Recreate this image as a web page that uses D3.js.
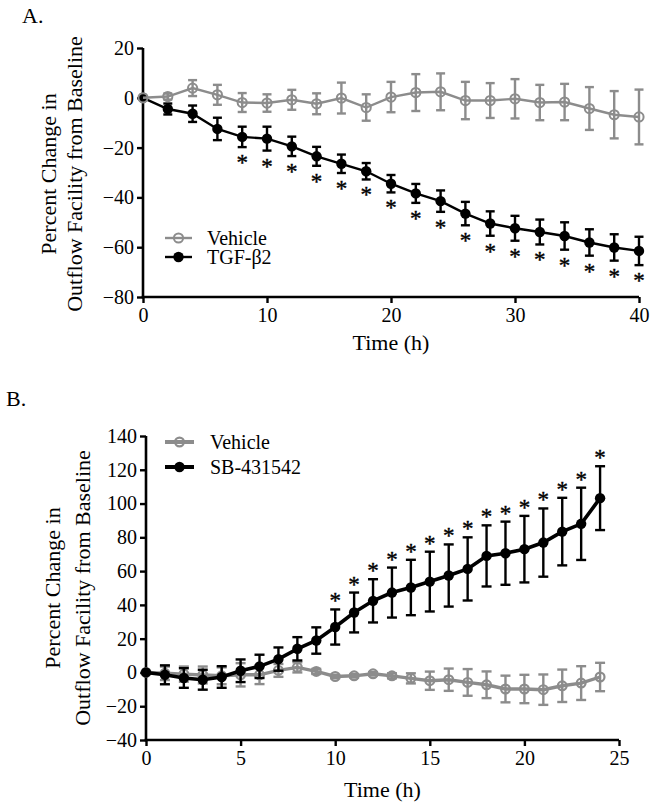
<!DOCTYPE html>
<html>
<head>
<meta charset="utf-8">
<script src="https://cdn.jsdelivr.net/npm/d3@7"></script>
<style>
  html, body { margin: 0; padding: 0; background: #fff; }
  svg { display: block; }
  text { font-family: "Liberation Serif", "Times New Roman", serif; fill: #000; }
  .stars text { stroke: #000; stroke-width: 0.4px; -webkit-font-smoothing: antialiased; }
</style>
</head>
<body>
<svg id="chart" width="654" height="808"></svg>
<script>
// ---------- Panel A data ----------
const hoursA = [0,2,4,6,8,10,12,14,16,18,20,22,24,26,28,30,32,34,36,38,40];
const vehicleA    = [0,0.5,3.9,1.2,-1.9,-2.1,-0.8,-2.4,-0.1,-3.9,0.3,2.1,2.4,-1.1,-1.1,-0.4,-1.9,-1.7,-4.3,-6.8,-7.7];
const vehicleAErr = [0,1.2,3.2,4.0,3.8,3.5,4.0,4.2,6.2,5.3,6.1,7.4,7.4,7.5,7.0,7.9,7.1,7.3,8.6,9.5,11.0];
const tgfA    = [0,-4.5,-6.4,-12.5,-15.7,-16.4,-19.5,-23.5,-26.5,-29.5,-34.5,-38.4,-41.5,-46.5,-50.5,-52.4,-53.9,-55.5,-58.1,-60.1,-61.5];
const tgfAErr = [0,2.2,3.3,4.5,4.1,4.8,3.9,3.8,3.7,3.3,3.5,3.8,4.3,4.7,4.9,5.0,5.0,5.5,5.3,5.3,5.7];
const sigHoursA = [8,10,12,14,16,18,20,22,24,26,28,30,32,34,36,38,40];
const xTicksA = [0,10,20,30,40];
const yTicksA = [-80,-60,-40,-20,0,20];
const seriesNamesA = ["Vehicle","TGF-\u03B22"];

// ---------- Panel B data ----------
const hoursB = [0,1,2,3,4,5,6,7,8,9,10,11,12,13,14,15,16,17,18,19,20,21,22,23,24];
const vehicleB    = [0,-0.5,-1,-1.5,-2,-1.4,-1.4,1.2,3.0,0.6,-2.4,-2.0,-0.8,-2.0,-3.5,-4.9,-4.3,-5.9,-7.3,-9.8,-9.8,-10.2,-7.9,-6.3,-2.7];
const vehicleBErr = [0,4,4.5,5,5,6.9,5.5,3.8,3,1.5,1,1,1,1.5,3,5.4,6.6,7.9,7.9,7.9,8.4,9,9.6,10,8.4];
const sbB    = [0,-1.4,-3.3,-4.3,-2.7,1.0,3.6,7.9,14.0,18.9,26.9,35.5,42.4,47.3,50.3,53.8,57.4,61.3,69.0,70.6,73.0,76.9,83.4,88.0,103.2];
const sbBErr = [0,5.6,5.8,5.9,6.4,6.7,6.9,6.9,6.9,7.8,10.4,11.8,12.8,14.8,16.4,17.7,18.4,18.7,18.1,18.7,19.7,20.2,20.0,21.4,18.9];
const sigHoursB = [10,11,12,13,14,15,16,17,18,19,20,21,22,23,24];
const xTicksB = [0,5,10,15,20,25];
const yTicksB = [-40,-20,0,20,40,60,80,100,120,140];
const seriesNamesB = ["Vehicle","SB-431542"];

const yTitle1 = "Percent Change in";
const yTitle2 = "Outflow Facility from Baseline";
const xTitle = "Time (h)";

const GRAY = "#8c8c8c";
const svg = d3.select("#chart");

function zip(hours, vals, errs) {
  return hours.map((h, i) => ({h, v: vals[i], e: errs[i]}));
}

function drawAxes(g, x, y, xTicks, yTicks) {
  const ya = g.append("g").attr("transform", `translate(${x.range()[0]},0)`)
    .call(d3.axisLeft(y).tickValues(yTicks).tickSize(6).tickSizeOuter(0).tickPadding(3).tickFormat(d3.format("d")));
  const xa = g.append("g").attr("transform", `translate(0,${y.range()[0]})`)
    .call(d3.axisBottom(x).tickValues(xTicks).tickSize(6).tickSizeOuter(0).tickPadding(5).tickFormat(d3.format("d")));
  [ya, xa].forEach(a => {
    a.select(".domain").attr("stroke", "#000").attr("stroke-width", 2.6);
    a.selectAll(".tick line").attr("stroke", "#000").attr("stroke-width", 2.4);
    a.selectAll(".tick text").attr("font-family", "Liberation Serif").attr("font-size", 20).attr("fill", "#000");
  });
  ya.select(".domain").attr("d", `M0,${y.range()[1]}V${y.range()[0] + 1.3}`);
  xa.select(".domain").attr("d", `M${x.range()[0] - 1.3},0H${x.range()[1]}`);
}

function drawSeries(g, x, y, data, opts) {
  const line = d3.line().x(d => x(d.h)).y(d => y(d.v));
  const eb = g.append("g");
  const withErr = data.filter(d => d.e > 0);
  eb.selectAll("line.v").data(withErr).join("line")
    .attr("x1", d => x(d.h)).attr("x2", d => x(d.h))
    .attr("y1", d => y(d.v + d.e)).attr("y2", d => y(d.v - d.e))
    .attr("stroke", opts.color).attr("stroke-width", opts.ebWidth);
  eb.selectAll("line.t").data(withErr).join("line")
    .attr("x1", d => x(d.h) - opts.cap).attr("x2", d => x(d.h) + opts.cap)
    .attr("y1", d => y(d.v + d.e)).attr("y2", d => y(d.v + d.e))
    .attr("stroke", opts.color).attr("stroke-width", opts.ebWidth);
  eb.selectAll("line.b").data(withErr).join("line")
    .attr("x1", d => x(d.h) - opts.cap).attr("x2", d => x(d.h) + opts.cap)
    .attr("y1", d => y(d.v - d.e)).attr("y2", d => y(d.v - d.e))
    .attr("stroke", opts.color).attr("stroke-width", opts.ebWidth);
  g.append("path").datum(data).attr("d", line)
    .attr("fill", "none").attr("stroke", opts.color).attr("stroke-width", opts.lineWidth);
  g.append("g").selectAll("circle").data(data).join("circle")
    .attr("cx", d => x(d.h)).attr("cy", d => y(d.v)).attr("r", opts.r)
    .attr("fill", opts.filled ? opts.color : "none")
    .attr("stroke", opts.color).attr("stroke-width", opts.filled ? 0 : opts.circleStroke);
}

function drawLegendItem(g, x0, x1, yy, tx, label, opts) {
  g.append("line").attr("x1", x0).attr("x2", x1).attr("y1", yy).attr("y2", yy)
    .attr("stroke", opts.color).attr("stroke-width", opts.lineWidth);
  g.append("circle").attr("cx", (x0 + x1) / 2).attr("cy", yy).attr("r", opts.r)
    .attr("fill", opts.filled ? opts.color : "none")
    .attr("stroke", opts.color).attr("stroke-width", opts.filled ? 0 : opts.circleStroke);
  g.append("text").attr("x", tx).attr("y", yy + 7).attr("font-size", 20).text(label);
}

function drawYTitle(g, cx1, cx2, cy) {
  g.append("text").attr("transform", `translate(${cx1},${cy}) rotate(-90)`)
    .attr("text-anchor", "middle").attr("font-size", 22).text(yTitle1);
  g.append("text").attr("transform", `translate(${cx2},${cy}) rotate(-90)`)
    .attr("text-anchor", "middle").attr("font-size", 22).text(yTitle2);
}

// ================= Panel A =================
{
  const g = svg.append("g");
  const x = d3.scaleLinear().domain([0, 40]).range([143, 639]);
  const y = d3.scaleLinear().domain([-80, 20]).range([297, 48]);
  drawAxes(g, x, y, xTicksA, yTicksA);

  const optsBlack = {color: "#000", lineWidth: 2.4, ebWidth: 2.4, cap: 4.5, r: 5.2, filled: true};
  const optsGray = {color: GRAY, lineWidth: 2.4, ebWidth: 2.4, cap: 4.5, r: 4.6, filled: false, circleStroke: 2};
  const tgf = zip(hoursA, tgfA, tgfAErr);
  drawSeries(g, x, y, tgf, optsBlack);
  drawSeries(g, x, y, zip(hoursA, vehicleA, vehicleAErr), optsGray);

  g.append("g").attr("class", "stars").selectAll("text").data(tgf.filter(d => sigHoursA.includes(d.h))).join("text")
    .attr("x", d => x(d.h)).attr("y", d => y(d.v - d.e) + 23)
    .attr("text-anchor", "middle").attr("font-size", 23).text("*");

  drawLegendItem(g, 165, 192, 238, 207, seriesNamesA[0], optsGray);
  drawLegendItem(g, 165, 192, 257, 207, seriesNamesA[1], optsBlack);

  g.append("text").attr("x", (x.range()[0] + x.range()[1]) / 2).attr("y", 350)
    .attr("text-anchor", "middle").attr("font-size", 22).text(xTitle);
  drawYTitle(g, 56, 82, 174);
  g.append("text").attr("x", 22).attr("y", 23).attr("font-size", 22).text("A.");
}

// ================= Panel B =================
{
  const g = svg.append("g");
  const x = d3.scaleLinear().domain([0, 25]).range([146, 619]);
  const y = d3.scaleLinear().domain([-40, 140]).range([740, 436]);
  drawAxes(g, x, y, xTicksB, yTicksB);

  const optsBlack = {color: "#000", lineWidth: 3.6, ebWidth: 2.4, cap: 5, r: 5.2, filled: true};
  const optsGray = {color: GRAY, lineWidth: 3.4, ebWidth: 2.4, cap: 5, r: 4.4, filled: false, circleStroke: 2.2};
  drawSeries(g, x, y, zip(hoursB, vehicleB, vehicleBErr), optsGray);
  const sb = zip(hoursB, sbB, sbBErr);
  drawSeries(g, x, y, sb, optsBlack);

  g.append("g").attr("class", "stars").selectAll("text").data(sb.filter(d => sigHoursB.includes(d.h))).join("text")
    .attr("x", d => x(d.h)).attr("y", d => y(d.v + d.e) - 1)
    .attr("text-anchor", "middle").attr("font-size", 23).text("*");

  drawLegendItem(g, 165, 194, 442, 210, seriesNamesB[0], {...optsGray, lineWidth: 4});
  drawLegendItem(g, 165, 194, 467, 210, seriesNamesB[1], {...optsBlack, lineWidth: 4});

  g.append("text").attr("x", (x.range()[0] + x.range()[1]) / 2).attr("y", 797)
    .attr("text-anchor", "middle").attr("font-size", 22).text(xTitle);
  drawYTitle(g, 60, 90, 588);
  g.append("text").attr("x", 6).attr("y", 406).attr("font-size", 22).text("B.");
}
</script>
</body>
</html>
